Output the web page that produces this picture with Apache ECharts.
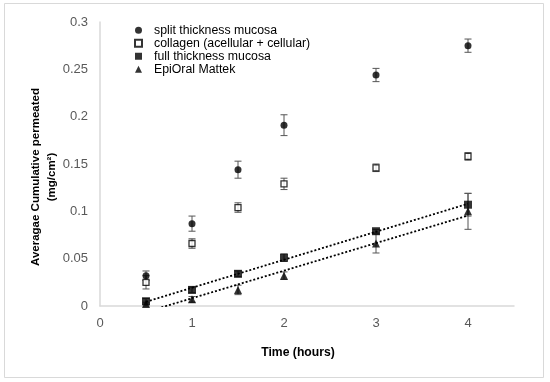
<!DOCTYPE html>
<html><head><meta charset="utf-8">
<script src="https://cdn.jsdelivr.net/npm/echarts@6/dist/echarts.min.js"></script>
<style>html,body{margin:0;padding:0;background:#fff}#c{width:550px;height:382px}</style>
</head><body><div id="c"></div>
<script>
var times = [0.5, 1, 1.5, 2, 3, 4];
var splitVals = [0.032, 0.087, 0.144, 0.191, 0.244, 0.275];
var splitErr = [0.005, 0.008, 0.009, 0.011, 0.007, 0.007];
var collagenVals = [0.025, 0.066, 0.104, 0.129, 0.146, 0.158];
var collagenErr = [0.007, 0.005, 0.005, 0.006, 0.004, 0.004];
var fullVals = [0.005, 0.017, 0.034, 0.051, 0.079, 0.107];
var fullErr = [0.003, 0.003, 0.003, 0.004, 0.002, 0.012];
var epiVals = [0.002, 0.007, 0.017, 0.032, 0.066, 0.100];
var epiErr = [0.002, 0.003, 0.005, 0.004, 0.010, 0.019];
var names = ['split thickness mucosa', 'collagen (acellular + cellular)', 'full thickness mucosa', 'EpiOral Mattek'];
var yTicks = [0, 0.05, 0.1, 0.15, 0.2, 0.25, 0.3];
var xTicks = [0, 1, 2, 3, 4];

function pts(v) { return times.map(function (t, i) { return [t, v[i]]; }); }
function errs(v, e) { return times.map(function (t, i) { return [t, v[i] - e[i], v[i] + e[i]]; }); }
function fit(v) {
  var n = times.length, mx = 0, my = 0, sxx = 0, sxy = 0;
  for (var i = 0; i < n; i++) { mx += times[i]; my += v[i]; }
  mx /= n; my /= n;
  for (i = 0; i < n; i++) { sxx += (times[i] - mx) * (times[i] - mx); sxy += (times[i] - mx) * (v[i] - my); }
  var b = sxy / sxx, a = my - b * mx;
  var x0 = times[0], x1 = times[n - 1];
  return [[x0, a + b * x0], [x1, a + b * x1]];
}
function errSeries(v, e) {
  return {
    type: 'custom', silent: true, z: 1, clip: false,
    data: errs(v, e),
    renderItem: function (params, api) {
      var x = api.value(0);
      var lo = api.coord([x, api.value(1)]);
      var hi = api.coord([x, api.value(2)]);
      var w = 3.5;
      var st = { stroke: '#555', lineWidth: 1 };
      return { type: 'group', children: [
        { type: 'line', shape: { x1: lo[0], y1: lo[1], x2: hi[0], y2: hi[1] }, style: st },
        { type: 'line', shape: { x1: lo[0] - w, y1: lo[1], x2: lo[0] + w, y2: lo[1] }, style: st },
        { type: 'line', shape: { x1: hi[0] - w, y1: hi[1], x2: hi[0] + w, y2: hi[1] }, style: st }
      ]};
    }
  };
}
function trend(v) {
  return { type: 'line', data: fit(v), symbol: 'none', silent: true, z: 2, clip: true,
    lineStyle: { color: '#000', width: 1.8, type: [2, 2] } };
}

var font = 'Liberation Sans, Arial, sans-serif';
var chart = echarts.init(document.getElementById('c'), null, { renderer: 'canvas' });
chart.setOption({
  animation: false,
  backgroundColor: '#fff',
  graphic: [{ type: 'rect', shape: { x: 4.5, y: 3.5, width: 539, height: 374 },
    style: { fill: 'none', stroke: '#d9d9d9', lineWidth: 1 }, z: -1 }],
  grid: { left: 100, right: 36, top: 22, bottom: 76 },
  legend: {
    orient: 'vertical', left: 129, top: 19, itemWidth: 7, itemHeight: 7, itemGap: 0.5,
    data: names,
    textStyle: { fontFamily: font, fontSize: 12.3, color: '#000', lineHeight: 12.5, padding: [0, 0, 0, 7] }
  },
  xAxis: {
    type: 'value', min: 0, max: 4.5, interval: 1,
    name: 'Time (hours)', nameLocation: 'middle', nameGap: 41, nameMoveOverlap: false,
    nameTextStyle: { fontFamily: font, fontSize: 12.2, fontWeight: 'bold', color: '#000', padding: [0, 18, 0, 0] },
    axisLine: { show: true, lineStyle: { color: '#d9d9d9', width: 1.5 } },
    axisTick: { show: false }, splitLine: { show: false },
    axisLabel: { fontFamily: font, fontSize: 13, color: '#595959', margin: 11,
      formatter: function (v) { return xTicks.indexOf(v) >= 0 ? String(v) : ''; } }
  },
  yAxis: {
    type: 'value', min: 0, max: 0.3, interval: 0.05,
    name: 'Averagae Cumulative permeated\n(mg/cm²)', nameLocation: 'middle', nameGap: 40, nameRotate: 90,
    nameMoveOverlap: false,
    nameTextStyle: { fontFamily: font, fontSize: 11.5, fontWeight: 'bold', color: '#000', lineHeight: 16, padding: [0, 26, 0, 0] },
    axisLine: { show: true, lineStyle: { color: '#d9d9d9', width: 1.5 } },
    axisTick: { show: false }, splitLine: { show: false },
    axisLabel: { fontFamily: font, fontSize: 13, color: '#595959', margin: 12,
      formatter: function (v) { var r = Math.round(v * 100) / 100; return yTicks.indexOf(r) >= 0 ? String(r) : ''; } }
  },
  series: [
    errSeries(splitVals, splitErr), errSeries(collagenVals, collagenErr),
    errSeries(fullVals, fullErr), errSeries(epiVals, epiErr),
    trend(fullVals), trend(epiVals),
    { name: names[0], type: 'scatter', z: 3, data: pts(splitVals), symbol: 'circle', symbolSize: 7,
      itemStyle: { color: '#000' } },
    { name: names[1], type: 'scatter', z: 3, data: pts(collagenVals), symbol: 'rect', symbolSize: 6,
      itemStyle: { color: '#fff', borderColor: '#000', borderWidth: 1.3 } },
    { name: names[2], type: 'scatter', z: 3, data: pts(fullVals), symbol: 'rect', symbolSize: 8,
      itemStyle: { color: '#000' } },
    { name: names[3], type: 'scatter', z: 3, data: pts(epiVals), symbol: 'triangle', symbolSize: 8,
      itemStyle: { color: '#000' } }
  ]
});
</script></body></html>
